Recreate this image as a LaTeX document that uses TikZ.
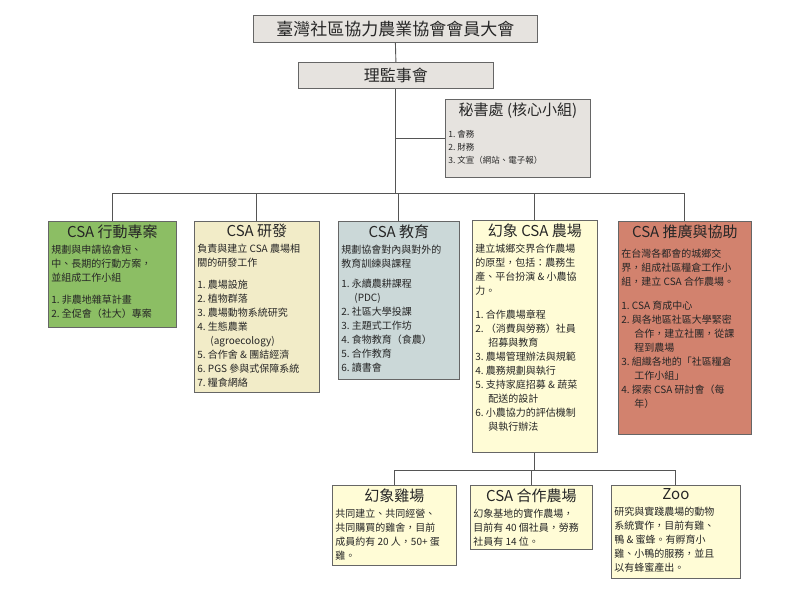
\documentclass[tikz,border=0pt]{standalone}
\usepackage{fontspec}
\setmainfont{Noto Sans CJK TC}
\definecolor{cgray}{HTML}{E6E3DF}
\definecolor{cgreen}{HTML}{8CBE64}
\definecolor{cyel}{HTML}{F2ECC8}
\definecolor{cblue}{HTML}{CBD8D8}
\definecolor{clight}{HTML}{FFFCD6}
\definecolor{cred}{HTML}{D2826E}
\definecolor{cline}{HTML}{555555}
\tikzset{box/.style={draw=gray!80!black,line width=0.8pt,inner sep=3pt,anchor=north west,text=black!85},
  conn/.style={draw=cline,line width=0.9pt}}
\newcommand\bx[8]{\node[box,fill=#6] (#1) at (#2,#3) {\parbox[t][\dimexpr#5pt-6pt\relax][t]{\dimexpr#4pt-6pt\relax}{{\centering\fontsize{15}{18}\selectfont #7\par}\vspace{2pt}\fontsize{10}{14}\selectfont\raggedright #8}};}
\newcommand\ci{\hspace*{1.3em}}
\begin{document}
\begin{tikzpicture}[x=1pt,y=-1pt]
\useasboundingbox (0,0) rectangle (800,600);
\node[box,fill=cgray,minimum width=284pt,minimum height=27pt,font=\fontsize{17}{20}\selectfont,inner sep=0pt] (top) at (253,15) {臺灣社區協力農業協會會員大會};
\node[box,fill=cgray,minimum width=195pt,minimum height=26pt,font=\fontsize{16}{20}\selectfont,inner sep=0pt] (board) at (298,62) {理監事會};
\node[box,fill=cgray] (sec) at (445,99) {\parbox[t][72pt][t]{139pt}{{\centering\fontsize{15}{18}\selectfont 秘書處 (核心小組)\par}\vspace{9pt}\fontsize{8.5}{13}\selectfont 1.\ 會務\\2.\ 財務\\3.\ 文宣（網站、電子報）}};
\bx{b1}{48}{221}{128}{106}{cgreen}{CSA 行動專案}{規劃與申請協會短、\\中、長期的行動方案，\\並組成工作小組\\[8pt]1.\ 非農地雜草計畫\\2.\ 全促會（社大）專案}
\bx{b2}{194}{221}{125}{171}{cyel}{CSA 研發}{負責與建立 CSA 農場相\\關的研發工作\\[8pt]1.\ 農場設施\\2.\ 植物群落\\3.\ 農場動物系統研究\\4.\ 生態農業\\\ci(agroecology)\\5.\ 合作舍 \& 團結經濟\\6.\ PGS 參與式保障系統\\7.\ 糧食網絡}
\bx{b3}{338}{221}{121}{158}{cblue}{CSA 教育}{規劃協會對內與對外的\\教育訓練與課程\\[6pt]1.\ 永續農耕課程\\\ci(PDC)\\2.\ 社區大學投課\\3.\ 主題式工作坊\\4.\ 食物教育（食農）\\5.\ 合作教育\\6.\ 讀書會}
\bx{b4}{472}{220}{125}{232}{clight}{幻象 CSA 農場}{建立城鄉交界合作農場\\的原型，包括：農務生\\產、平台扮演 \& 小農協\\力。\\[10pt]1.\ 合作農場章程\\2.\ （消費與勞務）社員\\\ci 招募與教育\\3.\ 農場管理辦法與規範\\4.\ 農務規劃與執行\\5.\ 支持家庭招募 \& 蔬菜\\\ci 配送的設計\\6.\ 小農協力的評估機制\\\ci 與執行辦法}
\bx{b5}{618}{221}{133}{213}{cred}{CSA 推廣與協助}{\vspace{4pt}在台灣各都會的城鄉交\\界，組成社區糧倉工作小\\組，建立 CSA 合作農場。\\[10pt]1.\ CSA 育成中心\\2.\ 與各地區社區大學緊密\\\ci 合作，建立社團，從課\\\ci 程到農場\\3.\ 組織各地的「社區糧倉\\\ci 工作小組」\\4.\ 探索 CSA 研討會（每\\\ci 年）}
\bx{c1}{332}{485}{124}{80}{clight}{幻象雞場}{共同建立、共同經營、\\共同購買的雞舍，目前\\成員約有 20 人，50+ 蛋\\雞。}
\bx{c2}{470}{485}{122}{64}{clight}{CSA 合作農場}{幻象基地的實作農場，\\目前有 40 個社員，勞務\\社員有 14 位。}
\bx{c3}{611}{485}{129}{93}{clight}{Zoo}{研究與實踐農場的動物\\系統實作，目前有雞、\\鴨 \& 蜜蜂。有孵育小\\雞、小鴨的服務，並且\\以有蜂蜜產出。}
\coordinate (busy) at (0,193);
\coordinate (busz) at (0,470);
\draw[conn] (top.south) -- (board.north);
\draw[conn] (board.south) -- (board.south |- busy);
\draw[conn] (board.south |- sec.west) -- (sec.west);
\draw[conn] (b1.north |- busy) -- (b5.north |- busy);
\foreach \n in {b1,b2,b3,b4,b5} \draw[conn] (\n.north) -- (\n.north |- busy);
\draw[conn] (b4.south) -- (b4.south |- busz);
\draw[conn] (c1.north |- busz) -- (c3.north |- busz);
\foreach \n in {c1,c2,c3} \draw[conn] (\n.north) -- (\n.north |- busz);
\end{tikzpicture}
\end{document}
